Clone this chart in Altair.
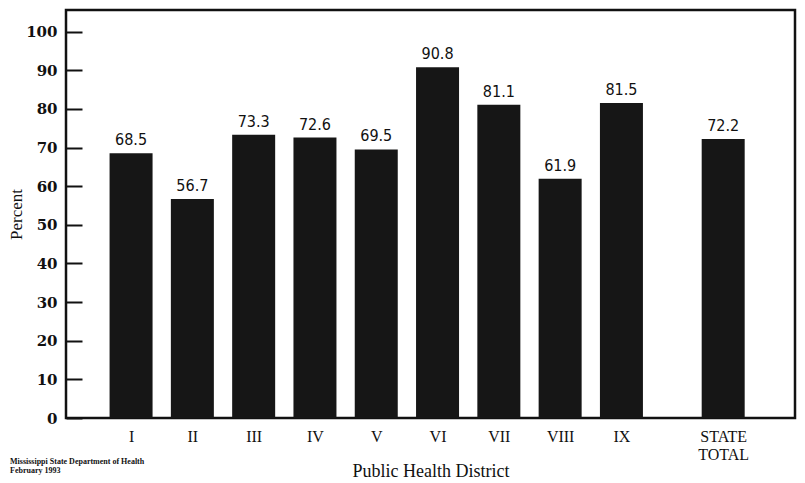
import altair as alt
import pandas as pd

districts = ["I", "II", "III", "IV", "V", "VI", "VII", "VIII", "IX", "STATE TOTAL"]
percents = [68.5, 56.7, 73.3, 72.6, 69.5, 90.8, 81.1, 61.9, 81.5, 72.2]
y_ticks = [0, 10, 20, 30, 40, 50, 60, 70, 80, 90, 100]
source_lines = ["Mississippi State Department of Health", "February 1993"]

# layout: districts one slot apart, state total separated by a wider gap
gap = 1.66
pos = [float(i) for i in range(len(districts) - 1)] + [len(districts) - 2 + gap]
df = pd.DataFrame({"district": districts, "percent": percents, "pos": pos})
df["label"] = df["percent"].map(lambda v: f"{v:.1f}")

# label expression mapping positions to district names
parts = []
for p, d in zip(pos, districts):
    words = d.split(" ")
    if len(words) > 1:
        txt = "[" + ",".join(f"'{w}'" for w in words) + "]"
    else:
        txt = f"'{d}'"
    parts.append((p, txt))
expr = "''"
for p, txt in reversed(parts):
    expr = f"abs(datum.value - {p}) < 0.01 ? {txt} : ({expr})"

xscale = alt.Scale(domain=[-0.98, 10.75], nice=False, zero=False)
yscale = alt.Scale(domain=[0, 105.6], nice=False)

serif = "Liberation Serif"

base = alt.Chart(df)

bars = base.mark_bar(color="#161616", size=43).encode(
    x=alt.X("pos:Q", scale=xscale,
            axis=alt.Axis(values=pos, labelExpr=expr, ticks=False, domain=False, grid=False,
                          labelFont=serif, labelFontSize=16, labelColor="#111",
                          labelPadding=10, labelLineHeight=18, labelFlush=False,
                          title="Public Health District", titleFont=serif,
                          titleFontSize=18, titleFontWeight="normal", titleColor="#111",
                          titlePadding=0)),
    y=alt.Y("percent:Q", scale=yscale,
            axis=alt.Axis(values=y_ticks, offset=-16, ticks=True, tickSize=16, tickWidth=2,
                          tickColor="#111", domain=False, grid=False,
                          labelFont="DejaVu Serif", labelFontWeight="bold", labelFontSize=15,
                          labelColor="#111", labelPadding=9,
                          title="Percent", titleFont=serif, titleFontSize=17,
                          titleFontWeight="normal", titleColor="#111", titlePadding=0)),
)

labels = base.mark_text(baseline="bottom", dy=-5,
                        font="Liberation Sans Narrow, DejaVu Sans Condensed, sans-serif",
                        fontSize=16, color="#111").encode(
    x=alt.X("pos:Q", scale=xscale),
    y=alt.Y("percent:Q", scale=yscale),
    text="label:N",
)

src_df = pd.DataFrame({"text": ["\n".join(source_lines)]})
source = alt.Chart(src_df).mark_text(align="left", baseline="top", font=serif, fontSize=8,
                                     fontWeight="bold", color="#111", lineBreak="\n",
                                     lineHeight=9).encode(
    x=alt.value(-56),
    y=alt.value(448),
    text="text:N",
)

chart = alt.layer(bars, labels, source).properties(
    width=729, height=408,
    autosize=alt.AutoSizeParams(type="none"),
    padding={"left": 58, "top": 2, "right": 2, "bottom": 62},
    background="white",
).configure_view(stroke="#111", strokeWidth=2.5)

chart.save("out.html", embed_options={"renderer": "svg", "actions": False})
